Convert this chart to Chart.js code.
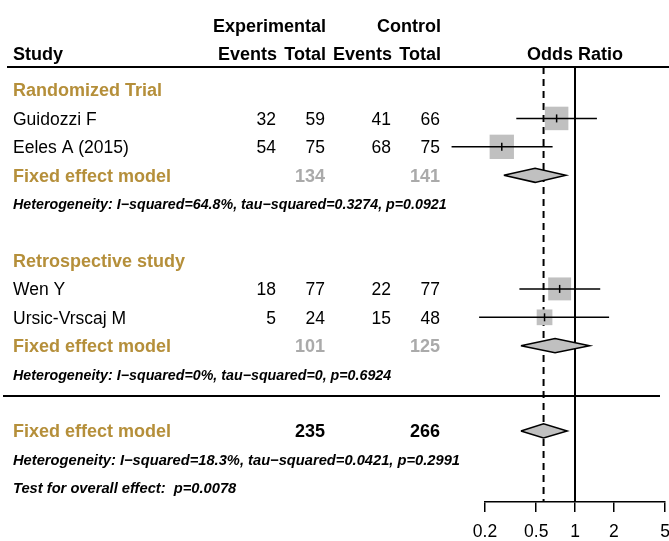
<!DOCTYPE html>
<html>
<head>
<meta charset="utf-8">
<script src="https://cdn.jsdelivr.net/npm/chart.js@4.4.1/dist/chart.umd.min.js"></script>
<style>
  html, body { margin: 0; padding: 0; background: #fff; }
  #forestChart { display: block; }
</style>
</head>
<body>
<canvas id="forestChart" width="669" height="541"></canvas>
<script>
// studies and raw counts
const studyNames = ["Guidozzi F", "Eeles A (2015)", "Wen Y", "Ursic-Vrscaj M"];
const studyGroup = [0, 0, 1, 1];
const expEvents = [32, 54, 18, 5];
const expTotal = [59, 75, 77, 24];
const ctrlEvents = [41, 68, 22, 15];
const ctrlTotal = [66, 75, 77, 48];

// odds ratios with 95% CI, and weights (%)
const orEst = [0.72, 0.27, 0.76, 0.58];
const orLower = [0.35, 0.11, 0.37, 0.18];
const orUpper = [1.48, 0.67, 1.57, 1.84];
const weights = [28.8, 30.9, 27.4, 12.9];

// subgroups
const groupNames = ["Randomized Trial", "Retrospective study"];
const groupEst = [0.49, 0.70];
const groupLower = [0.28, 0.38];
const groupUpper = [0.85, 1.30];
const groupExpTotal = [134, 101];
const groupCtrlTotal = [141, 125];
const groupHet = [
  "Heterogeneity: I\u2212squared=64.8%, tau\u2212squared=0.3274, p=0.0921",
  "Heterogeneity: I\u2212squared=0%, tau\u2212squared=0, p=0.6924"
];

// overall
const overallOR = [0.57, 0.38, 0.87]; // estimate, lower, upper
const overallTotals = [235, 266];
const overallHet = "Heterogeneity: I\u2212squared=18.3%, tau\u2212squared=0.0421, p=0.2991";
const overallTest = "Test for overall effect:  p=0.0078";

const tickValues = [0.2, 0.5, 1, 2, 5];

// ---- layout of rows (row index -> text line) ----
const FONT = '"Liberation Sans", Arial, Helvetica, sans-serif';
const GOLD = "#b58f3a";
const GREY_TXT = "#aaaaaa";
const BOX = "#c0c0c0";

let rowOfStudy = [];
let rowOfGroup = [];
let row = 0;
groupNames.forEach(function (g, gi) {
  const r = { header: row };
  row++;
  studyNames.forEach(function (s, i) {
    if (studyGroup[i] === gi) {
      rowOfStudy[i] = row;
      row++;
    }
  });
  r.fixed = row++;
  r.het = row++;
  row++; // blank line
  rowOfGroup.push(r);
});
const ruleRow = rowOfGroup[1].het + 0.77;
const overallRow = { fixed: rowOfGroup[1].het + 2, het: rowOfGroup[1].het + 3, test: rowOfGroup[1].het + 4 };

const DIA_H = 0.25;

// ---- datasets ----
const datasets = [];

// diamonds (top-most)
function diamond(est, lo, hi, r) {
  return {
    data: [
      { x: lo, y: r }, { x: est, y: r - DIA_H }, { x: hi, y: r },
      { x: est, y: r + DIA_H }, { x: lo, y: r }
    ],
    showLine: true,
    fill: "shape",
    backgroundColor: BOX,
    borderColor: "#000",
    borderWidth: 1.5,
    pointRadius: 0,
    order: 1,
  };
}
groupEst.forEach(function (e, gi) {
  datasets.push(diamond(e, groupLower[gi], groupUpper[gi], rowOfGroup[gi].fixed));
});
datasets.push(diamond(overallOR[0], overallOR[1], overallOR[2], overallRow.fixed));

// point estimate ticks
datasets.push({
  data: orEst.map((v, i) => ({ x: v, y: rowOfStudy[i] })),
  pointStyle: "line",
  rotation: 90,
  pointRadius: 4,
  borderColor: "#000",
  borderWidth: 1.5,
  order: 2,
});

// confidence intervals
orEst.forEach(function (v, i) {
  datasets.push({
    data: [{ x: orLower[i], y: rowOfStudy[i] }, { x: orUpper[i], y: rowOfStudy[i] }],
    showLine: true,
    borderColor: "#000",
    borderWidth: 1.5,
    pointRadius: 0,
    clip: false,
    order: 3,
  });
});

// weight boxes
datasets.push({
  data: orEst.map((v, i) => ({ x: v, y: rowOfStudy[i] })),
  pointStyle: "rect",
  pointRadius: weights.map((w) => (4.38 * Math.sqrt(w)) / Math.SQRT2),
  backgroundColor: BOX,
  borderWidth: 0,
  order: 4,
});

// line of no effect and overall estimate
const yMin = -0.81;
const yMax = overallRow.test + 0.5;
datasets.push({
  data: [{ x: 1, y: yMin }, { x: 1, y: yMax }],
  showLine: true,
  borderColor: "#000",
  borderWidth: 2,
  pointRadius: 0,
  order: 5,
});
datasets.push({
  data: [{ x: overallOR[0], y: yMin }, { x: overallOR[0], y: yMax }],
  showLine: true,
  borderColor: "#000",
  borderWidth: 2,
  borderDash: [7, 5],
  pointRadius: 0,
  order: 6,
});

// ---- text table drawn next to the plot ----
const tablePlugin = {
  id: "forestTable",
  afterDraw(chart) {
    const c = chart.ctx;
    const y = chart.scales.y;
    const area = chart.chartArea;
    const py = (r) => y.getPixelForValue(r) + 1.5;
    const colX = [276, 325, 391, 440];

    function txt(s, x, r, font, color, align) {
      c.font = font;
      c.fillStyle = color || "#000";
      c.textAlign = align || "left";
      c.textBaseline = "middle";
      c.fillText(String(s), x, py(r));
    }
    const bold = "bold 18px " + FONT;
    const reg = "17.5px " + FONT;
    const ital = "italic bold 14.25px " + FONT;
    const italAll = "italic bold 14.7px " + FONT;

    c.save();
    // headers
    txt("Experimental", colX[1] + 1, -2.28, bold, "#000", "right");
    txt("Control", colX[3] + 1, -2.28, bold, "#000", "right");
    txt("Study", 13, -1.3, bold);
    txt("Events", colX[0] + 1, -1.3, bold, "#000", "right");
    txt("Total", colX[1] + 1, -1.3, bold, "#000", "right");
    txt("Events", colX[2] + 1, -1.3, bold, "#000", "right");
    txt("Total", colX[3] + 1, -1.3, bold, "#000", "right");
    txt("Odds Ratio", (area.left + area.right) / 2, -1.3, bold, "#000", "center");

    // rules
    c.strokeStyle = "#000";
    c.lineWidth = 2;
    c.beginPath();
    c.moveTo(7, area.top);
    c.lineTo(chart.width, area.top);
    c.moveTo(3, y.getPixelForValue(ruleRow));
    c.lineTo(660, y.getPixelForValue(ruleRow));
    c.stroke();

    groupNames.forEach(function (g, gi) {
      const r = rowOfGroup[gi];
      txt(g, 13, r.header, bold, GOLD);
      studyNames.forEach(function (s, i) {
        if (studyGroup[i] !== gi) return;
        txt(s, 13, rowOfStudy[i], reg);
        txt(expEvents[i], colX[0], rowOfStudy[i], reg, "#000", "right");
        txt(expTotal[i], colX[1], rowOfStudy[i], reg, "#000", "right");
        txt(ctrlEvents[i], colX[2], rowOfStudy[i], reg, "#000", "right");
        txt(ctrlTotal[i], colX[3], rowOfStudy[i], reg, "#000", "right");
      });
      txt("Fixed effect model", 13, r.fixed, bold, GOLD);
      txt(groupExpTotal[gi], colX[1], r.fixed, bold, GREY_TXT, "right");
      txt(groupCtrlTotal[gi], colX[3], r.fixed, bold, GREY_TXT, "right");
      txt(groupHet[gi], 13, r.het, ital);
    });

    txt("Fixed effect model", 13, overallRow.fixed, bold, GOLD);
    txt(overallTotals[0], colX[1], overallRow.fixed, bold, "#000", "right");
    txt(overallTotals[1], colX[3], overallRow.fixed, bold, "#000", "right");
    txt(overallHet, 13, overallRow.het, italAll);
    txt(overallTest, 13, overallRow.test, italAll);
    c.restore();
  },
};

const ctx = document.getElementById("forestChart").getContext("2d");
const forestChart = new Chart(ctx, {
  type: "scatter",
  data: { datasets: datasets },
  options: {
    responsive: false,
    animation: false,
    events: [],
    layout: { autoPadding: false, padding: { left: 485, right: 4, top: 67, bottom: -11 } },
    plugins: { legend: { display: false }, tooltip: { enabled: false } },
    scales: {
      x: {
        type: "logarithmic",
        position: "bottom",
        min: tickValues[0],
        max: tickValues[tickValues.length - 1],
        afterBuildTicks: function (axis) {
          axis.ticks = tickValues.map((v) => ({ value: v }));
        },
        afterFit: function (axis) {
          // labels may overhang the plot edges; keep the plot width fixed
          axis.paddingLeft = 0;
          axis.paddingRight = 0;
        },
        ticks: {
          callback: (v) => String(v),
          color: "#000",
          font: { family: FONT, size: 17.5, lineHeight: 1.6 },
          padding: 6,
          maxRotation: 0,
          autoSkip: false,
        },
        grid: {
          drawOnChartArea: false,
          drawTicks: true,
          tickLength: 10,
          color: "#000",
          lineWidth: 1.5,
        },
        border: { display: true, color: "#000", width: 1.5 },
      },
      y: { type: "linear", reverse: true, min: yMin, max: yMax, display: false },
    },
  },
  plugins: [tablePlugin],
});
</script>
</body>
</html>
